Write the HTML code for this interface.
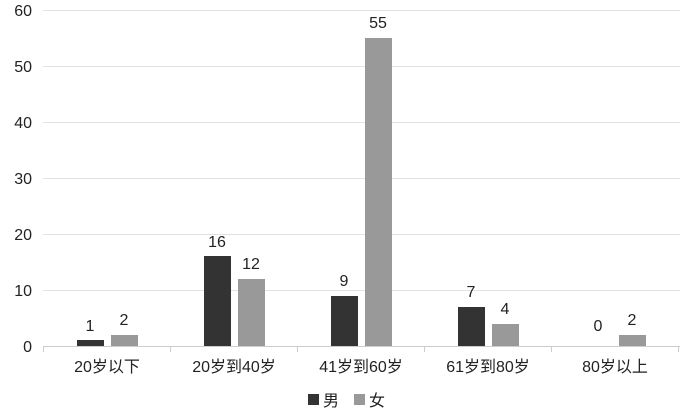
<!DOCTYPE html><html><head><meta charset="utf-8"><style>body{margin:0;background:#fff}</style></head><body>
<svg width="681" height="411" xmlns="http://www.w3.org/2000/svg" font-family="Liberation Sans, Noto Sans CJK SC, sans-serif" font-size="16" fill="#222">
<g stroke="#e2e2e2" stroke-width="1">
<line x1="43" x2="680" y1="290.5" y2="290.5"/><line x1="43" x2="680" y1="234.5" y2="234.5"/><line x1="43" x2="680" y1="178.5" y2="178.5"/><line x1="43" x2="680" y1="122.5" y2="122.5"/><line x1="43" x2="680" y1="66.5" y2="66.5"/><line x1="43" x2="680" y1="10.5" y2="10.5"/>
</g>
<g stroke="#ccc"><line x1="43" x2="680" y1="346.5" y2="346.5"/>
<line x1="43.5" x2="43.5" y1="346" y2="352"/><line x1="170.5" x2="170.5" y1="346" y2="352"/><line x1="297.5" x2="297.5" y1="346" y2="352"/><line x1="424.5" x2="424.5" y1="346" y2="352"/><line x1="551.5" x2="551.5" y1="346" y2="352"/><line x1="678.5" x2="678.5" y1="346" y2="352"/></g>
<g text-anchor="end"><text x="32" y="352">0</text><text x="32" y="296">10</text><text x="32" y="240">20</text><text x="32" y="184">30</text><text x="32" y="128">40</text><text x="32" y="72">50</text><text x="32" y="16">60</text></g>
<g fill="#333"><rect x="77" y="340" width="27" height="6"/><rect x="204" y="256" width="27" height="90"/><rect x="331" y="296" width="27" height="50"/><rect x="458" y="307" width="27" height="39"/></g>
<g fill="#999"><rect x="111" y="335" width="27" height="11"/><rect x="238" y="279" width="27" height="67"/><rect x="365" y="38" width="27" height="308"/><rect x="492" y="324" width="27" height="22"/><rect x="619" y="335" width="27" height="11"/></g>
<g text-anchor="middle"><text x="90" y="331">1</text><text x="124" y="325">2</text><text x="217" y="247">16</text><text x="251" y="269">12</text><text x="344" y="286">9</text><text x="378" y="28">55</text><text x="471" y="297">7</text><text x="505" y="314">4</text><text x="598" y="331">0</text><text x="632" y="325">2</text>
<text x="107" y="372">20岁以下</text><text x="234" y="372">20岁到40岁</text><text x="361" y="372">41岁到60岁</text><text x="488" y="372">61岁到80岁</text><text x="615" y="372">80岁以上</text></g>
<rect x="308" y="394" width="11" height="11" fill="#333"/><text x="323" y="406">男</text>
<rect x="354" y="394" width="11" height="11" fill="#999"/><text x="369" y="406">女</text>
</svg></body></html>
